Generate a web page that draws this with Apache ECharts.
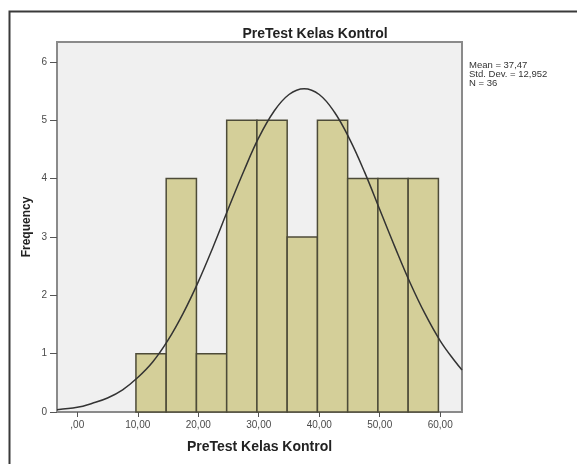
<!DOCTYPE html>
<html>
<head>
<meta charset="utf-8">
<script src="https://cdn.jsdelivr.net/npm/echarts@6/dist/echarts.min.js"></script>
<style>
  html, body { margin: 0; padding: 0; background: #fff; }
  #chart { width: 577px; height: 464px; }
</style>
</head>
<body>
<div id="chart"></div>
<script>
// histogram bins (lower edge, upper edge) and frequencies
var binStart = [9.7, 14.7, 19.7, 24.7, 29.7, 34.7, 39.7, 44.7, 49.7, 54.7];
var binEnd = [14.7, 19.7, 24.7, 29.7, 34.7, 39.7, 44.7, 49.7, 54.7, 59.7];
var counts = [1, 4, 1, 5, 5, 3, 5, 4, 4, 4];

// normal curve
var curveX = [-3.35, 0, 2.5, 5, 7.5, 10, 12.5, 15, 17.5, 20, 22.5, 25, 27.5, 30, 32.5, 35, 37.5, 40, 42.5, 45, 47.5, 50, 52.5, 55, 57.5, 60, 62.5, 63.6];
var curveY = [0.04, 0.08, 0.15, 0.24, 0.38, 0.59, 0.86, 1.23, 1.69, 2.23, 2.84, 3.49, 4.12, 4.70, 5.15, 5.44, 5.54, 5.44, 5.14, 4.68, 4.11, 3.47, 2.83, 2.22, 1.68, 1.22, 0.86, 0.72];

var xTicks = [0, 10, 20, 30, 40, 50, 60];
var xTickLabels = [",00", "10,00", "20,00", "30,00", "40,00", "50,00", "60,00"];
var yTicks = [0, 1, 2, 3, 4, 5, 6];

var statsLines = ["Mean = 37,47", "Std. Dev. = 12,952", "N = 36"];

var myChart = echarts.init(document.getElementById("chart"));

var barData = [];
for (var i = 0; i < counts.length; i++) {
  barData.push([binStart[i], binEnd[i], counts[i]]);
}
var lineData = [];
for (var j = 0; j < curveX.length; j++) {
  lineData.push([curveX[j], curveY[j]]);
}

var statsGraphics = statsLines.map(function (t, k) {
  return {
    type: "text",
    left: 469,
    top: 60 + k * 9,
    style: { text: t, font: "9.5px 'Liberation Sans', Arial, sans-serif", fill: "#333" }
  };
});

myChart.setOption({
  animation: false,
  backgroundColor: "#fff",
  title: {
    text: "PreTest Kelas Kontrol",
    left: 310,
    top: 22,
    textAlign: "center",
    textStyle: {
      fontFamily: "'Liberation Sans', Arial, sans-serif",
      fontSize: 14,
      fontWeight: "bold",
      color: "#222"
    }
  },
  grid: {
    left: 57,
    top: 42,
    right: 115,
    bottom: 52,
    show: true,
    backgroundColor: "#f0f0f0",
    borderColor: "#8a8a8a",
    borderWidth: 2
  },
  xAxis: {
    type: "value",
    min: -3.35,
    max: 63.6,
    name: "PreTest Kelas Kontrol",
    nameLocation: "middle",
    nameGap: 28,
    nameMoveOverlap: false,
    nameTextStyle: {
      fontFamily: "'Liberation Sans', Arial, sans-serif",
      fontSize: 14,
      fontWeight: "bold",
      color: "#222"
    },
    axisLine: { show: true, onZero: false, lineStyle: { color: "#8a8a8a", width: 2 } },
    axisTick: { show: true, customValues: xTicks, length: 5, lineStyle: { color: "#555" } },
    axisLabel: {
      customValues: xTicks,
      margin: 8,
      fontFamily: "'Liberation Sans', Arial, sans-serif",
      fontSize: 10,
      color: "#4a4a4a",
      formatter: function (v) {
        return xTickLabels[xTicks.indexOf(v)];
      }
    },
    splitLine: { show: false }
  },
  yAxis: {
    type: "value",
    min: 0,
    max: 6.34,
    name: "Frequency",
    nameLocation: "middle",
    nameGap: 24,
    nameMoveOverlap: false,
    nameTextStyle: {
      fontFamily: "'Liberation Sans', Arial, sans-serif",
      fontSize: 12,
      fontWeight: "bold",
      color: "#222"
    },
    axisLine: { show: true, onZero: false, lineStyle: { color: "#8a8a8a", width: 2 } },
    axisTick: { show: true, customValues: yTicks, length: 7, lineStyle: { color: "#555" } },
    axisLabel: {
      customValues: yTicks,
      margin: 10,
      fontFamily: "'Liberation Sans', Arial, sans-serif",
      fontSize: 10,
      color: "#4a4a4a"
    },
    splitLine: { show: false }
  },
  graphic: [
    {
      type: "rect",
      left: 7,
      top: 9,
      shape: { width: 640, height: 520 },
      style: { fill: null, stroke: "#3a3a3a", lineWidth: 2 }
    }
  ].concat(statsGraphics),
  series: [
    {
      type: "custom",
      data: barData,
      encode: { x: [0, 1], y: 2 },
      renderItem: function (params, api) {
        var p0 = api.coord([api.value(0), api.value(2)]);
        var p1 = api.coord([api.value(1), 0]);
        return {
          type: "rect",
          shape: { x: p0[0], y: p0[1], width: p1[0] - p0[0], height: p1[1] - p0[1] },
          style: { fill: "#d4cf99", stroke: "#4d4b38", lineWidth: 1.5 }
        };
      },
      z: 2
    },
    {
      type: "line",
      data: lineData,
      smooth: 0.4,
      showSymbol: false,
      lineStyle: { color: "#333", width: 1.5 },
      z: 3
    }
  ]
});
</script>
</body>
</html>
